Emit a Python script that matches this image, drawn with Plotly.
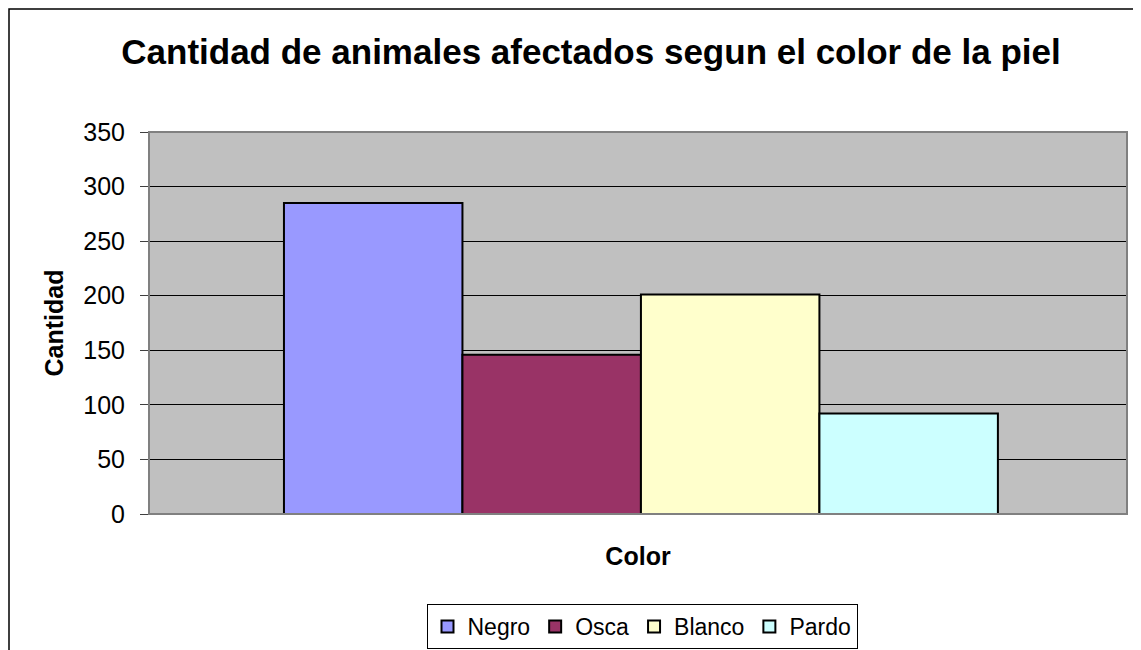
import plotly.graph_objects as go

categories = [""]
series_names = ["Negro", "Osca", "Blanco", "Pardo"]
series_values = [285, 146, 201, 92]
series_colors = ["#9999FF", "#993366", "#FFFFCC", "#CCFFFF"]
y_ticks = [0, 50, 100, 150, 200, 250, 300, 350]

FONT = "Liberation Sans, Arial, sans-serif"

fig = go.Figure()
for name, val, col in zip(series_names, series_values, series_colors):
    fig.add_trace(go.Bar(
        x=categories, y=[val], name=name,
        marker=dict(color=col, line=dict(color="black", width=2)),
    ))

# page has an 8px body margin, so the figure is placed at (8, 8)
W, H = 1133, 642
L, R, T, B = 141, 14, 124, 136
pw, ph = W - L - R, H - T - B

def px_x(p):
    return (p - L) / pw

def px_y(p):
    return (H - B - p) / ph

fig.update_layout(
    width=W, height=H,
    margin=dict(l=L, r=R, t=T, b=B, autoexpand=False),
    paper_bgcolor="white",
    plot_bgcolor="#C0C0C0",
    barmode="group",
    bargap=0.27,
    bargroupgap=0,
    font=dict(family=FONT, color="black", size=22),
    title=dict(
        text="<b>Cantidad de animales afectados segun el color de la piel</b>",
        x=583 / W, xref="container", xanchor="center",
        y=1 - 44 / H, yref="container", yanchor="middle",
        font=dict(family=FONT, size=35, color="black"),
    ),
    xaxis=dict(
        showticklabels=False, showgrid=False, zeroline=False,
        showline=False, ticks="", automargin=False,
        range=[-0.503, 0.497],
        title=dict(text="<b>Color</b>", font=dict(size=25), standoff=33),
    ),
    yaxis=dict(
        range=[0, 350], tickvals=y_ticks, ticks="outside", ticklen=8,
        tickcolor="#404040", showgrid=True, gridcolor="black", gridwidth=1,
        zeroline=False, showline=False, automargin=False,
        tickfont=dict(size=25), ticklabelstandoff=10,
        title=dict(text="<b>Cantidad</b>", font=dict(size=25), standoff=12),
    ),
    legend=dict(
        orientation="h", x=634 / W, xref="container", xanchor="center",
        y=1 - 596 / H, yref="container", yanchor="top",
        bordercolor="black", borderwidth=1, bgcolor="white",
        font=dict(size=23), itemwidth=30, tracegroupgap=0,
    ),
    showlegend=True,
)

# plot area frame
fig.add_shape(type="rect", xref="paper", yref="paper", x0=0, x1=1, y0=0, y1=1,
              line=dict(color="#808080", width=2), fillcolor="rgba(0,0,0,0)", layer="above")
# chart outer border
fig.add_shape(type="rect", xref="paper", yref="paper",
              x0=px_x(1), x1=px_x(1127), y0=px_y(1), y1=px_y(660),
              line=dict(color="black", width=1.5), fillcolor="rgba(0,0,0,0)")

fig.write_html("out.html")
